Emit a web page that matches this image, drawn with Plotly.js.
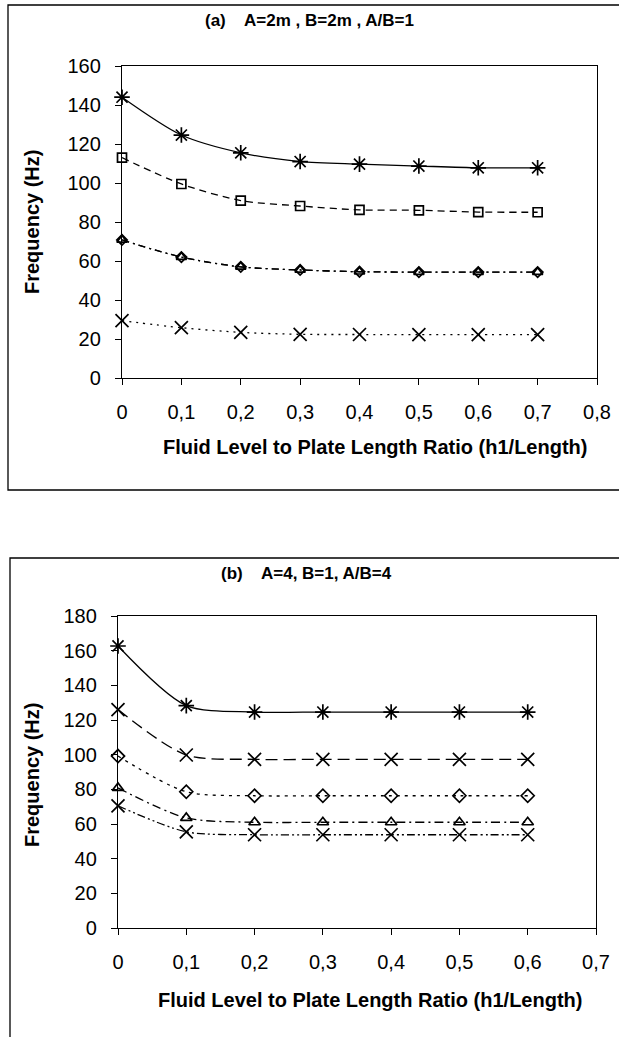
<!DOCTYPE html>
<html>
<head>
<meta charset="utf-8">
<script src="https://cdn.plot.ly/plotly-3.0.1.min.js"></script>
<style>
html,body{margin:0;padding:0;background:#fff;}
#chart{width:619px;height:1037px;}
</style>
</head>
<body>
<div id="chart"></div>
<script>
// ---- Data: chart (a) A=2m, B=2m, A/B=1 ----
const xA = [0, 0.1, 0.2, 0.3, 0.4, 0.5, 0.6, 0.7];
const a_mode1 = [144, 124.6, 115.5, 111, 109.7, 108.7, 107.8, 107.8];
const a_mode2 = [113, 99.5, 91, 88.2, 86.2, 86, 85.1, 85];
const a_mode3 = [70.8, 62, 57, 55.4, 54.5, 54.3, 54.3, 54.3];
const a_mode4 = [70.8, 62, 57, 55.4, 54.5, 54.3, 54.3, 54.3];
const a_mode5 = [29.4, 25.8, 23.4, 22.4, 22.3, 22.2, 22.2, 22.2];

// ---- Data: chart (b) A=4, B=1, A/B=4 ----
const xB = [0, 0.1, 0.2, 0.3, 0.4, 0.5, 0.6];
const b_mode1 = [162.7, 128.3, 124.6, 124.6, 124.6, 124.6, 124.6];
const b_mode2 = [126, 99.8, 97.3, 97.3, 97.3, 97.3, 97.3];
const b_mode3 = [99.2, 78.6, 76.3, 76.3, 76.3, 76.3, 76.3];
const b_mode4 = [80.8, 63.5, 61, 61, 61, 61, 61];
const b_mode5 = [70.5, 55.5, 53.8, 53.8, 53.8, 53.8, 53.8];

// ---- Tick labels ----
const xTickValsA = [0, 0.1, 0.2, 0.3, 0.4, 0.5, 0.6, 0.7, 0.8];
const xTickTextA = ["0", "0,1", "0,2", "0,3", "0,4", "0,5", "0,6", "0,7", "0,8"];
const xTickValsB = [0, 0.1, 0.2, 0.3, 0.4, 0.5, 0.6, 0.7];
const xTickTextB = ["0", "0,1", "0,2", "0,3", "0,4", "0,5", "0,6", "0,7"];

const titleA = "(a)\u00a0\u00a0\u00a0 A=2m , B=2m , A/B=1";
const titleB = "(b)\u00a0\u00a0\u00a0 A=4, B=1, A/B=4";
const xTitle = "Fluid Level to Plate Length Ratio (h1/Length)";
const yTitle = "Frequency (Hz)";

const W = 619, H = 1037;
const px = v => v / W;
const py = v => 1 - v / H;
const FAM = 'Liberation Sans, Arial, sans-serif';

function tr(x, y, xa, ya, symbol, dash, size) {
  return {
    x: x, y: y, xaxis: xa, yaxis: ya, type: 'scatter', mode: 'lines+markers',
    line: {color: '#000', width: 1.3, dash: dash, shape: 'spline', smoothing: 0.8},
    marker: {symbol: symbol, size: size || 11, color: '#000', line: {color: '#000', width: 1.7}},
    showlegend: false, hoverinfo: 'skip', cliponaxis: false
  };
}

const data = [
  tr(xA, a_mode1, 'x', 'y', 'asterisk-open', 'solid', 13),
  tr(xA, a_mode2, 'x', 'y', 'square-open', '7px,5px', 9),
  tr(xA, a_mode3, 'x', 'y', 'diamond-open', '7px,4px,2px,4px', 8),
  tr(xA, a_mode4, 'x', 'y', 'triangle-up-open', '7px,4px,2px,4px', 9),
  tr(xA, a_mode5, 'x', 'y', 'x-thin-open', '2px,5px', 13),
  tr(xB, b_mode1, 'x2', 'y2', 'asterisk-open', 'solid', 13),
  tr(xB, b_mode2, 'x2', 'y2', 'x-thin-open', '12px,6px', 13),
  tr(xB, b_mode3, 'x2', 'y2', 'diamond-open', '3px,5px', 10),
  tr(xB, b_mode4, 'x2', 'y2', 'triangle-up-open', '9px,4px,2px,4px', 10),
  tr(xB, b_mode5, 'x2', 'y2', 'x-thin-open', '8px,3px,2px,3px,2px,3px', 13)
];

const tickFont = {family: FAM, size: 20, color: '#000'};
const axBase = {
  showgrid: false, zeroline: false, showline: true, linecolor: '#000', linewidth: 1.2,
  mirror: true, ticks: 'outside', ticklen: 6, tickcolor: '#000', tickwidth: 1,
  tickfont: tickFont, fixedrange: true
};
const boldFont = s => ({family: FAM, size: s, color: '#000', weight: 'bold'});

const layout = {
  width: W, height: H, margin: {l: 0, r: 0, t: 0, b: 0},
  paper_bgcolor: '#fff', plot_bgcolor: '#fff',
  xaxis: Object.assign({}, axBase, {domain: [px(122), px(597)], range: [0, 0.8], tickvals: xTickValsA, ticktext: xTickTextA, anchor: 'y', ticklabelstandoff: 10}),
  yaxis: Object.assign({}, axBase, {domain: [py(378), py(66)], range: [0, 160], dtick: 20, tick0: 0, anchor: 'x', ticklabelstandoff: 10}),
  xaxis2: Object.assign({}, axBase, {domain: [px(118), px(596)], range: [0, 0.7], tickvals: xTickValsB, ticktext: xTickTextB, anchor: 'y2', ticklabelstandoff: 10}),
  yaxis2: Object.assign({}, axBase, {domain: [py(928), py(616)], range: [0, 180], dtick: 20, tick0: 0, anchor: 'x2', ticklabelstandoff: 10}),
  shapes: [
    {type: 'rect', xref: 'paper', yref: 'paper', x0: px(8), x1: px(625), y0: py(490), y1: py(5), line: {color: '#000', width: 1.3}},
    {type: 'rect', xref: 'paper', yref: 'paper', x0: px(10), x1: px(625), y0: py(1045), y1: py(558), line: {color: '#000', width: 1.3}}
  ],
  annotations: [
    {text: titleA, xref: 'paper', yref: 'paper', x: px(309), y: py(20), showarrow: false, xanchor: 'center', yanchor: 'middle', font: boldFont(17)},
    {text: titleB, xref: 'paper', yref: 'paper', x: px(306), y: py(573), showarrow: false, xanchor: 'center', yanchor: 'middle', font: boldFont(17)},
    {text: xTitle, xref: 'paper', yref: 'paper', x: px(375), y: py(447), showarrow: false, xanchor: 'center', yanchor: 'middle', font: boldFont(20)},
    {text: xTitle, xref: 'paper', yref: 'paper', x: px(370), y: py(1000), showarrow: false, xanchor: 'center', yanchor: 'middle', font: boldFont(20)},
    {text: yTitle, xref: 'paper', yref: 'paper', x: px(32), y: py(222), showarrow: false, textangle: -90, xanchor: 'center', yanchor: 'middle', font: boldFont(20)},
    {text: yTitle, xref: 'paper', yref: 'paper', x: px(32), y: py(775), showarrow: false, textangle: -90, xanchor: 'center', yanchor: 'middle', font: boldFont(20)}
  ]
};

Plotly.newPlot('chart', data, layout, {staticPlot: true, displayModeBar: false});
</script>
</body>
</html>
